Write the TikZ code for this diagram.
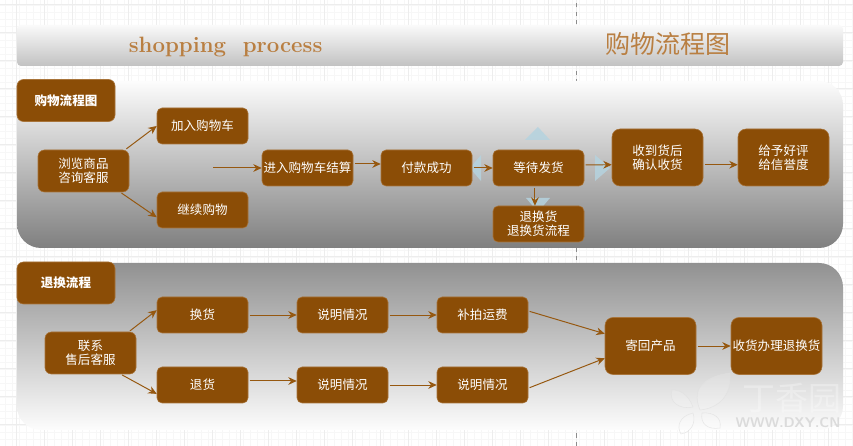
\documentclass[tikz,border=0pt]{standalone}
\usepackage{fontspec}
\newfontfamily\cjkfont{Noto Sans CJK SC}
\usetikzlibrary{arrows.meta}
\definecolor{boxbrown}{HTML}{8B4D06}
\definecolor{boxedge}{HTML}{A8743A}
\definecolor{flowbrown}{HTML}{965810}
\definecolor{titlebrown}{HTML}{B97F42}
\definecolor{hintblue}{HTML}{B5D3DF}
\tikzset{
    flowbox/.style = {draw = boxedge, fill = boxbrown, text = white, rounded corners = 0.125cm,
        minimum width = 2.275cm, minimum height = 0.9cm, inner sep = 0pt, align = center,
        font = \cjkfont\fontsize{8.9}{10.2}\selectfont},
    tallbox/.style = {flowbox, rounded corners = 0.2cm, minimum height = 1.425cm},
    midbox/.style = {flowbox, rounded corners = 0.16cm, minimum height = 1.05cm},
    headbox/.style = {midbox, minimum width = 2.45cm, font = \cjkfont\bfseries\fontsize{8.9}{10.2}\selectfont},
    flow/.style = {draw = flowbrown, line width = .7pt, -{Stealth[length = 6pt, width = 5.5pt]}, shorten <= 1pt},
    hint/.style = {fill = hintblue, fill opacity = .85, draw = none},
    leaf/.style = {draw = black!12, fill = white, fill opacity = .15, draw opacity = .7, line width = .4pt}
}
\begin{document}
\begin{tikzpicture}
    \useasboundingbox (0, 0) rectangle (21.325, 11.15);
    % paper grid
    \fill[white] (0, 0) rectangle (21.325, 11.15);
    \foreach \i in {0, ..., 122} \draw[black!3, line width = .4pt] ({0.1425 + 0.175*\i}, 0) -- ++(0, 11.15);
    \foreach \i in {0, ..., 64} \draw[black!3, line width = .4pt] (0, {0.0 + 0.175*\i}) -- ++(21.325, 0);
    \foreach \i in {0, ..., 30} \draw[black!7, line width = .4pt] ({0.4175 + 0.7*\i}, 0) -- ++(0, 11.15);
    \foreach \i in {0, ..., 15} \draw[black!7, line width = .4pt] (0, {0.55 + 0.7*\i}) -- ++(21.325, 0);
    \draw[black!45, dashed] (14.4, 0) -- (14.4, 11.15);
    % banner
    \shade[top color = black!2, bottom color = black!24, rounded corners = 0.1cm] (0.425, 9.5) rectangle (21.075, 10.525);
    \node[font = \bfseries\fontsize{15.8}{20}\selectfont, text = titlebrown] (entitle) at (5.64, 9.97) {shopping\ \ process};
    \node[font = \cjkfont\fontsize{17.8}{20}\selectfont, text = titlebrown] (zhtitle) at (16.7, 10.05) {购物流程图};
    % shopping panel
    \shade[top color = black!1, bottom color = black!50, rounded corners = 0.6cm] (0.425, 4.95) rectangle (21.075, 9.125);
    % refund panel
    \shade[top color = black!43, bottom color = black!1, rounded corners = 0.6cm] (0.425, 0.4) rectangle (21.075, 4.575);
    % hint triangles
    \fill[hint] (13.45, 7.975) -- (13.125, 7.65) -- (13.75, 7.65) -- cycle;
    \fill[hint] (11.75, 6.95) -- (12.025, 7.275) -- (12.025, 6.625) -- cycle;
    \fill[hint] (15.25, 6.95) -- (14.875, 7.275) -- (14.875, 6.625) -- cycle;
    \fill[hint] (13.45, 5.85) -- (13.15, 6.2) -- (13.75, 6.2) -- cycle;
    % watermark
    \draw[leaf] (17.5, 0.9) .. controls (17.25, 1.5) and (17.7, 1.75) .. (18.25, 1.825) .. controls (18.3, 1.3) and (18.0, 0.95) .. (17.5, 0.9);
    \draw[leaf] (17.325, 0.975) .. controls (17.2, 1.3) and (17.0, 1.4) .. (16.8, 1.4) .. controls (16.7, 1.1) and (17.0, 0.9) .. (17.325, 0.975);
    \draw[leaf] (17.325, 0.825) .. controls (17.0, 0.75) and (16.9, 0.5) .. (17.025, 0.3) .. controls (17.3, 0.35) and (17.4, 0.6) .. (17.325, 0.825);
    \draw[leaf] (17.55, 0.825) .. controls (17.5, 0.55) and (17.7, 0.4) .. (18, 0.45) .. controls (18.05, 0.7) and (17.85, 0.85) .. (17.55, 0.825);
    \node[font = \cjkfont\fontsize{23.4}{26}\selectfont, text = white, text opacity = .3] (markzh) at (19.8, 1.2) {丁香园};
    \node[font = \sffamily\bfseries\fontsize{10}{12}\selectfont, text = black!14] (markurl) at (19.7, 0.575) {WWW.DXY.CN};
    % shopping boxes
    \node[headbox] (shophead) at (1.65, 8.6375) {购物流程图};
    \node[flowbox] (cart) at (5.0625, 8) {加入购物车};
    \node[midbox] (browse) at (2.0875, 6.875) {浏览商品\\咨询客服};
    \node[flowbox] (keep) at (5.0625, 5.9) {继续购物};
    \node[flowbox] (enter) at (7.6875, 6.95) {进入购物车结算};
    \node[flowbox] (pay) at (10.6625, 6.95) {付款成功};
    \node[flowbox] (wait) at (13.4625, 6.95) {等待发货};
    \node[flowbox] (back) at (13.4625, 5.55) {退换货\\退换货流程};
    \node[tallbox] (recv) at (16.4375, 7.2125) {收到货后\\确认收货};
    \node[tallbox] (rate) at (19.5875, 7.2125) {给予好评\\给信誉度};
    % refund boxes
    \node[headbox] (refhead) at (1.65, 4.075) {退换流程};
    \node[midbox] (contact) at (2.2625, 2.325) {联系\\售后客服};
    \node[flowbox] (swap) at (5.0625, 3.275) {换货};
    \node[flowbox] (refund) at (5.0625, 1.525) {退货};
    \node[flowbox] (noteA) at (8.5625, 3.275) {说明情况};
    \node[flowbox] (noteB) at (8.5625, 1.525) {说明情况};
    \node[flowbox] (extra) at (12.0625, 3.275) {补拍运费};
    \node[flowbox] (noteC) at (12.0625, 1.525) {说明情况};
    \node[tallbox] (ret) at (16.2625, 2.5) {寄回产品};
    \node[tallbox] (done) at (19.4125, 2.5) {收货办理退换货};
    % shopping arrows
    \coordinate (enterfrom) at (5.3, 6.95);
    \draw[flow] (browse.27) -- (cart.west);
    \draw[flow] (browse.-30) -- (keep.189);
    \draw[flow] (enterfrom) -- (enter.west);
    \draw[flow] (enter.5) -- (pay.175);
    \draw[flow] (pay.east) -- (wait.west);
    \draw[flow] (wait.4) -- (recv.189);
    \draw[flow] (recv.-9) -- (rate.189);
    \draw[flow] (wait.-101) -- (back.101);
    % refund arrows
    \draw[flow] (contact.29) -- (swap.174);
    \draw[flow] (contact.-35) -- (refund.191);
    \draw[flow] (swap.east) -- (noteA.west);
    \draw[flow] (refund.5) -- (noteB.175);
    \draw[flow] (noteA.east) -- (extra.west);
    \draw[flow] (noteB.east) -- (noteC.west);
    \draw[flow] (extra.5) -- (ret.165);
    \draw[flow] (noteC.-4) -- (ret.195);
    \draw[flow] (ret.east) -- (done.west);
\end{tikzpicture}
\end{document}
